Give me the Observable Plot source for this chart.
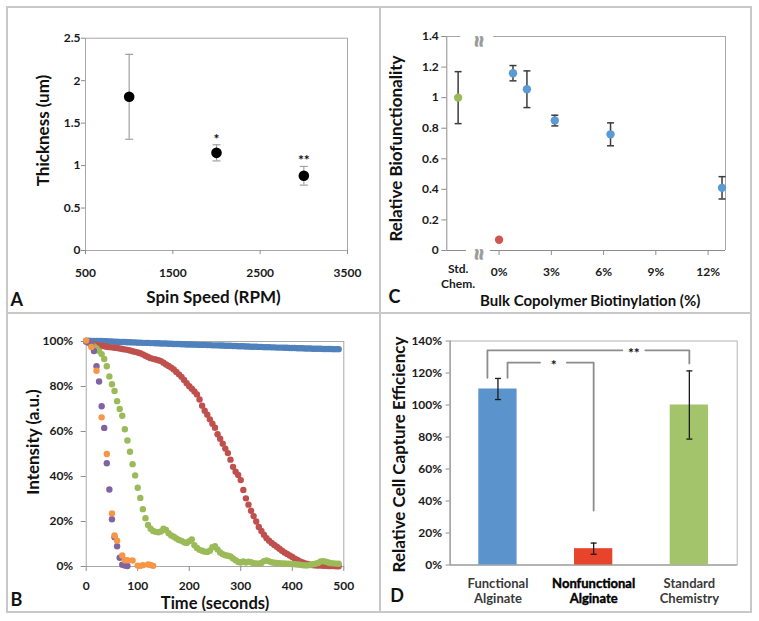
<!DOCTYPE html>
<html>
<head>
<meta charset="utf-8">
<script src="https://cdn.jsdelivr.net/npm/d3@7"></script>
<script src="https://cdn.jsdelivr.net/npm/@observablehq/plot@0.6"></script>
<style>
html,body{margin:0;padding:0;background:#fff;}
#wrap{position:relative;width:759px;height:621px;overflow:hidden;font-family:Lato,"Open Sans",sans-serif;}
.panel{position:absolute;}
.bline{position:absolute;background:#c8c8c8;z-index:5;}
</style>
</head>
<body>
<div id="wrap">
  <div class="panel" id="pA" style="left:7px;top:7px;"></div>
  <div class="panel" id="pC" style="left:380px;top:7px;"></div>
  <div class="panel" id="pB" style="left:7px;top:313px;"></div>
  <div class="panel" id="pD" style="left:380px;top:313px;"></div>
  <div class="bline" style="left:6px;top:6px;width:746px;height:2px"></div>
  <div class="bline" style="left:6px;top:611px;width:746px;height:2px"></div>
  <div class="bline" style="left:6px;top:6px;width:2px;height:607px"></div>
  <div class="bline" style="left:750px;top:6px;width:2px;height:607px"></div>
  <div class="bline" style="left:379px;top:6px;width:2px;height:607px"></div>
  <div class="bline" style="left:6px;top:312px;width:746px;height:2px"></div>
</div>
<script>
// ---------------- Panel A: thickness vs spin speed ----------------
const A_speed = [1000, 2000, 3000];
const A_thick = [1.81, 1.15, 0.88];
const A_err = [0.5, 0.095, 0.11];
const A_sig = ["", "*", "**"];
const A_xTicks = [500, 1500, 2500, 3500];
const A_yTicks = [0, 0.5, 1, 1.5, 2, 2.5];

// ---------------- Panel B: photobleaching time series ----------------
const B_series = ["Series 1", "Series 2", "Series 3", "Series 4", "Series 5"];
const B_t5 = [0,5,10,15,20,25,30,35,40,45,50,55,60,65,70,75,80,85,90,95,
  100,105,110,115,120,125,130,135,140,145,150,155,160,165,170,175,180,185,190,195,
  200,205,210,215,220,225,230,235,240,245,250,255,260,265,270,275,280,285,290,295,
  300,305,310,315,320,325,330,335,340,345,350,355,360,365,370,375,380,385,390,395,
  400,405,410,415,420,425,430,435,440,445,450,455,460,465,470,475,480,485,490];
const B_blue = [100.4,100.4,100.3,100.3,100.2,100.2,100.2,100.1,100.1,100.0,
  100.0,99.9,99.9,99.8,99.8,99.8,99.7,99.7,99.6,99.6,
  99.5,99.5,99.4,99.4,99.4,99.3,99.3,99.2,99.2,99.1,
  99.1,99.1,99.0,99.0,98.9,98.9,98.9,98.8,98.8,98.7,
  98.7,98.7,98.6,98.6,98.5,98.5,98.5,98.4,98.4,98.3,
  98.3,98.3,98.2,98.2,98.1,98.1,98.1,98.0,98.0,97.9,
  97.9,97.9,97.8,97.8,97.7,97.7,97.7,97.6,97.6,97.5,
  97.5,97.5,97.4,97.4,97.3,97.3,97.3,97.2,97.2,97.1,
  97.1,97.1,97.0,97.0,97.0,96.9,96.9,96.9,96.8,96.8,
  96.8,96.8,96.7,96.7,96.7,96.7,96.6,96.6,96.6];
const B_red = [100,99.4,99.0,98.6,98.5,98.3,98.1,97.9,97.7,97.5,
  97.4,97.2,97.1,96.9,96.7,96.5,96.3,96.0,95.7,95.4,
  95.1,94.8,94.3,93.7,93.1,92.6,92.3,92.0,91.7,91.3,
  90.6,89.8,89.1,88.4,87.6,86.5,85.4,84.3,82.9,81.5,
  80.1,79.0,77.8,76.5,74.2,71.5,69.2,67.5,65.4,63.5,
  61.7,58.8,56.8,54.6,52.4,50.4,47.5,44.3,42.1,40.7,
  38.4,34.0,30.3,27.5,24.8,22.4,20.0,17.6,15.8,14.1,
  12.6,11.5,10.5,9.6,8.8,7.9,7.0,6.2,5.6,4.9,
  4.2,3.5,2.9,2.3,1.8,1.4,1.1,0.8,0.6,0.5,
  0.4,0.4,0.3,0.3,0.2,0.2,0.2,0.1,0.1];
const B_green = [100,99.3,98.6,97.8,96.9,95.8,94.4,92.2,89.0,84.5,
  81.0,78.0,73.5,70.0,67.0,61.0,56.0,51.0,45.5,40.5,
  35.0,30.5,25.5,21.5,18.5,16.8,15.8,15.4,15.2,15.6,
  16.8,16.2,14.8,13.8,13.2,12.5,11.8,11.4,10.8,10.5,
  11.2,12.0,9.5,8.2,7.4,7.0,6.6,6.5,7.0,8.6,
  9.0,7.6,6.2,5.5,5.0,4.8,4.5,3.6,2.8,2.0,
  1.8,2.2,1.8,2.1,1.9,1.5,1.4,1.3,1.6,2.4,
  2.7,2.3,1.9,1.7,1.6,1.5,1.4,1.4,1.3,1.2,
  1.1,1.0,0.9,0.8,0.6,0.5,0.5,0.8,1.0,1.2,
  1.6,2.2,2.4,2.1,1.8,1.5,1.4,1.3,1.2];
const B_tPurple = [0,5,10,15,20,25,30,35,40,45,50,55,60,65,70,75,80];
const B_purple = [100,99.6,98.5,95.8,89.0,82.2,71.2,61.6,45.9,34.2,21.0,13.0,9.0,3.9,0.8,0.4,0.2];
const B_tOrange = [0,10,20,30,40,50,55,60,70,75,80,90,100,105,110,120,125,130];
const B_orange = [100.4,97.6,87.0,66.3,50.0,23.6,13.8,11.5,4.9,2.8,2.8,2.7,0.4,0.3,0.6,0.9,0.7,0.3];
const B_xTicks = [0, 100, 200, 300, 400, 500];
const B_yTicks = [0, 20, 40, 60, 80, 100];

// ---------------- Panel C: biofunctionality ----------------
const C_kind = ["Standard chemistry", "Nonfunctional", "Functional", "Functional", "Functional", "Functional", "Functional"];
const C_pos = [-2.35, 0, 0.8, 1.6, 3.2, 6.4, 12.8];
const C_val = [1.0, 0.07, 1.16, 1.055, 0.85, 0.76, 0.41];
const C_err = [0.17, 0, 0.05, 0.12, 0.035, 0.075, 0.073];
const C_xTicks = [0, 3, 6, 9, 12];
const C_yTicks = [0, 0.2, 0.4, 0.6, 0.8, 1, 1.2, 1.4];
const C_stdLabel = "Std.\nChem.";

// ---------------- Panel D: cell capture efficiency ----------------
const D_cats = ["Functional\nAlginate", "Nonfunctional\nAlginate", "Standard\nChemistry"];
const D_vals = [110, 10.2, 100];
const D_err = [6.6, 3.5, 21.3];
const D_yTicks = [0, 20, 40, 60, 80, 100, 120, 140];
const D_bracketX = [[-0.11, -0.11, 1.30], [1.54, 2, 2], [0.10, 0.10, 0.44], [0.72, 1.0, 1.0]];
const D_bracketY = [[117, 134.2, 134.2], [134.2, 134.2, 126], [117, 126.5, 126.5], [126.5, 126.5, 34]];
const D_sigText = ["*", "**"];
const D_sigX = [0.583, 1.42];
const D_sigY = [126.5, 134.2];

// ---------------- helpers ----------------
const style = () => ({background: "transparent", fontFamily: "Lato, 'Open Sans', sans-serif", fontSize: "12px", fontWeight: "bold", color: "#1a1a1a", overflow: "visible"});
const cap = {draw(ctx, size) { const r = Math.sqrt(size / Math.PI); ctx.moveTo(-r, 0); ctx.lineTo(r, 0); }};
function label(m, text, X, Y, o = {}) {
  return Plot.text([text], {frameAnchor: "top-left", dx: X - m.marginLeft, dy: Y - m.marginTop, text: d => d,
    textAnchor: "middle", lineAnchor: "middle", fontSize: 17, fontWeight: "bold", fill: "#111", ...o});
}
function errorBars(data, {x, y1, y2, stroke, strokeWidth = 1.2, r = 4}) {
  return [
    Plot.ruleX(data, {x, y1, y2, stroke, strokeWidth}),
    Plot.dot(data, {x, y: y1, symbol: cap, r, stroke, strokeWidth}),
    Plot.dot(data, {x, y: y2, symbol: cap, r, stroke, strokeWidth})
  ];
}

// ---------------- Panel A ----------------
{
  const m = {marginLeft: 78, marginRight: 33, marginTop: 30.7, marginBottom: 63};
  const data = A_speed.map((s, i) => ({s, v: A_thick[i], e: A_err[i], sig: A_sig[i]}));
  const p = Plot.plot({
    width: 373, height: 306, ...m, style: style(),
    x: {domain: [500, 3500]}, y: {domain: [0, 2.5]},
    marks: [
      Plot.frame({stroke: "#a8a8a8"}),
      Plot.axisY({ticks: A_yTicks, tickFormat: d => String(d), tickSize: 4, tickPadding: 1, stroke: "#8c8c8c", fill: "#1a1a1a", label: null}),
      Plot.axisX({ticks: A_xTicks, tickFormat: d => String(d), tickSize: 4, tickPadding: 14, stroke: "#8c8c8c", fill: "#1a1a1a", label: null}),
      ...errorBars(data, {x: "s", y1: d => d.v - d.e, y2: d => d.v + d.e, stroke: "#a0a0a0", r: 4}),
      Plot.dot(data, {x: "s", y: "v", r: 5.3, fill: "#000"}),
      Plot.text(data, {x: "s", y: d => d.v + d.e, text: "sig", lineAnchor: "bottom", dy: -1, fontSize: 14, fill: "#111"}),
      label(m, "Thickness (um)", 36, 123, {rotate: -90}),
      label(m, "Spin Speed (RPM)", 206, 290),
      label(m, "A", 3, 298, {textAnchor: "start", lineAnchor: "bottom", fontSize: 18})
    ]
  });
  document.getElementById("pA").append(p);
}

// ---------------- Panel B ----------------
{
  const m = {marginLeft: 78.7, marginRight: 36.7, marginTop: 28, marginBottom: 46};
  const cols = [[B_t5, B_blue], [B_t5, B_red], [B_t5, B_green], [B_tPurple, B_purple], [B_tOrange, B_orange]];
  const data = cols.flatMap(([t, v], k) => t.map((ti, i) => ({k: B_series[k], t: ti, v: v[i]})));
  const p = Plot.plot({
    width: 373, height: 299, ...m, style: style(),
    x: {domain: [0, 500]}, y: {domain: [0, 100]},
    color: {domain: B_series, range: ["#4f81bd", "#c0504d", "#9bbb59", "#8064a2", "#f79646"]},
    marks: [
      Plot.frame({stroke: "#a8a8a8"}),
      Plot.axisY({ticks: B_yTicks, tickFormat: d => d + "%", tickSize: 5, tickPadding: 8, stroke: "#8c8c8c", fill: "#1a1a1a", label: null}),
      Plot.axisX({ticks: B_xTicks, tickFormat: d => String(d), tickSize: 5, tickPadding: 10, stroke: "#8c8c8c", fill: "#1a1a1a", label: null}),
      Plot.dot(data, {x: "t", y: "v", fill: "k", r: 3.2}),
      label(m, "Intensity (a.u.)", 26, 128.5, {rotate: -90}),
      label(m, "Time (seconds)", 207.5, 290.5, {fontSize: 16.5}),
      label(m, "B", 3, 292, {textAnchor: "start", lineAnchor: "bottom", fontSize: 18})
    ]
  });
  document.getElementById("pB").append(p);
}

// ---------------- Panel C ----------------
{
  const m = {marginLeft: 66.3, marginRight: 26, marginTop: 29, marginBottom: 63};
  const data = C_pos.map((x, i) => ({x, v: C_val[i], e: C_err[i], k: C_kind[i]}));
  const withErr = data.filter(d => d.e > 0);
  const gray = "#a8a8a8";
  const brk = {text: d => d, rotate: 90, fontSize: 24, fill: "#999", stroke: "#999", strokeWidth: 0.6};
  const p = Plot.plot({
    width: 371, height: 306, ...m, style: style(),
    x: {domain: [-3, 13]}, y: {domain: [0, 1.4]},
    color: {domain: ["Standard chemistry", "Nonfunctional", "Functional"], range: ["#9bbb59", "#d0574f", "#5b9bd5"]},
    marks: [
      Plot.ruleX([-3], {stroke: "#8c8c8c"}),
      Plot.ruleX([13], {stroke: gray}),
      Plot.ruleY([0], {x1: -3, x2: -1.87, stroke: "#8c8c8c"}),
      Plot.ruleY([0], {x1: -0.5, x2: 13, stroke: "#8c8c8c"}),
      Plot.ruleY([1.4], {x1: -3, x2: -2.2, stroke: gray}),
      Plot.ruleY([1.4], {x1: -0.32, x2: 13, stroke: gray}),
      Plot.text(["≈"], {x: -1.2, y: 1.4, dy: 5, ...brk}),
      Plot.text(["≈"], {x: -1.2, y: 0, dy: 4, ...brk}),
      Plot.axisY({ticks: C_yTicks, tickFormat: d => String(d), tickSize: 5, tickPadding: 3, stroke: "#8c8c8c", fill: "#1a1a1a", label: null}),
      Plot.axisX({ticks: C_xTicks, tickFormat: d => d + "%", tickSize: 5, tickPadding: 12, stroke: "#8c8c8c", fill: "#1a1a1a", label: null}),
      Plot.text([C_stdLabel], {x: C_pos[0], text: d => d, frameAnchor: "bottom", lineAnchor: "top", dy: 11, lineHeight: 1.3, fill: "#1a1a1a"}),
      ...errorBars(withErr, {x: "x", y1: d => d.v - d.e, y2: d => d.v + d.e, stroke: "#3c3c3c", strokeWidth: 1.5, r: 3.5}),
      Plot.dot(data, {x: "x", y: "v", r: 4.2, fill: "k"}),
      label(m, "Relative Biofunctionality", 16.3, 141, {rotate: -90}),
      label(m, "Bulk Copolymer Biotinylation (%)", 209.7, 294, {fontSize: 15}),
      label(m, "C", 8, 295, {textAnchor: "start", lineAnchor: "bottom", fontSize: 18})
    ]
  });
  document.getElementById("pC").append(p);
}

// ---------------- Panel D ----------------
{
  const m = {marginLeft: 69.6, marginRight: 14.3, marginTop: 27.5, marginBottom: 47.5};
  const data = D_cats.map((c, i) => ({i, c, v: D_vals[i], e: D_err[i]}));
  const brackets = D_bracketX.flatMap((xs, s) => xs.map((x, j) => ({s, x, y: D_bracketY[s][j]})));
  const sig = D_sigText.map((t, i) => ({t, x: D_sigX[i], y: D_sigY[i]}));
  const catText = {x: "i", text: "c", frameAnchor: "bottom", lineAnchor: "top", dy: 11.5, lineHeight: 1.2, fontSize: 13};
  const p = Plot.plot({
    width: 371, height: 299, ...m, style: style(),
    x: {domain: [-0.5, 2.5], axis: null}, y: {domain: [0, 140]},
    color: {domain: D_cats, range: ["#5b93cc", "#e8432b", "#a3c46a"]},
    marks: [
      Plot.frame({stroke: "#b4b4b4"}),
      Plot.ruleY([0], {stroke: "#8c8c8c"}),
      Plot.ruleX([-0.5], {stroke: "#8c8c8c"}),
      Plot.axisY({ticks: D_yTicks, tickFormat: d => d + "%", tickSize: 4, tickPadding: 4, stroke: "#8c8c8c", fill: "#1a1a1a", label: null}),
      Plot.rectY(data, {x1: d => d.i - 0.2, x2: d => d.i + 0.2, y: "v", fill: "c"}),
      ...errorBars(data, {x: "i", y1: d => d.v - d.e, y2: d => d.v + d.e, stroke: "#1a1a1a", strokeWidth: 1.3, r: 3}),
      Plot.line(brackets, {x: "x", y: "y", z: "s", stroke: "#8c8c8c", strokeWidth: 1.8}),
      Plot.text(sig, {x: "x", y: "y", text: "t", fontSize: 14, fill: "#111", dy: 3}),
      Plot.text(data.filter(d => d.i !== 1), {...catText, fill: "#3a3a3a"}),
      Plot.text(data.filter(d => d.i === 1), {...catText, fill: "#000", stroke: "#000", strokeWidth: 0.4}),
      label(m, "Relative Cell Capture Efficiency", 18.7, 141, {rotate: -90}),
      label(m, "D", 9.7, 288.7, {textAnchor: "start", lineAnchor: "bottom", fontSize: 18})
    ]
  });
  document.getElementById("pD").append(p);
}
</script>
</body>
</html>
